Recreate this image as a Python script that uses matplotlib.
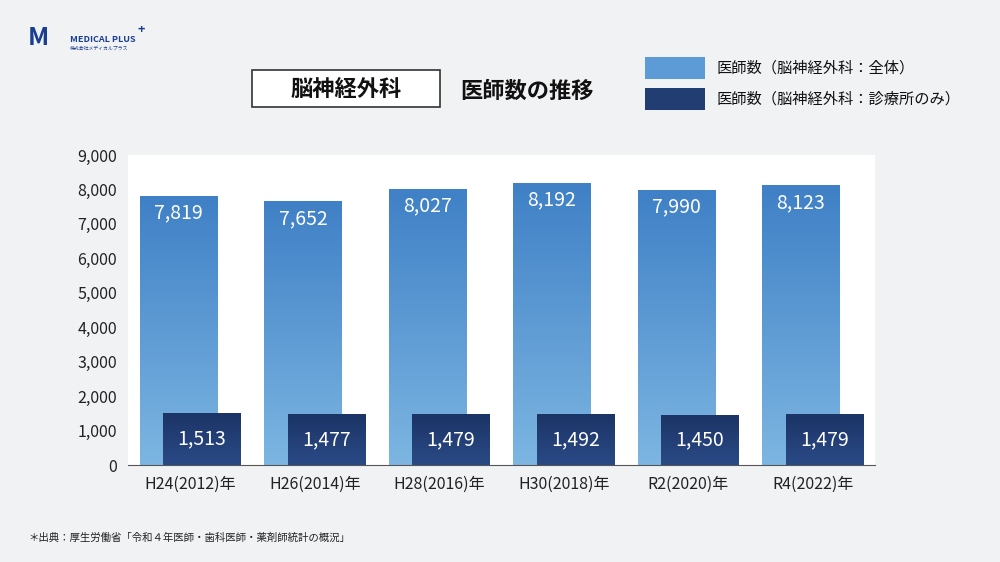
import matplotlib
matplotlib.use("Agg")
import matplotlib.pyplot as plt
import numpy as np
from matplotlib.patches import Rectangle

plt.rcParams["font.family"] = ["Noto Sans CJK JP", "DejaVu Sans"]

categories = ["H24(2012)年", "H26(2014)年", "H28(2016)年", "H30(2018)年", "R2(2020)年", "R4(2022)年"]
total = [7819, 7652, 8027, 8192, 7990, 8123]
clinic = [1513, 1477, 1479, 1492, 1450, 1479]
yticks = [0, 1000, 2000, 3000, 4000, 5000, 6000, 7000, 8000, 9000]

W, H = 1000, 562
fig = plt.figure(figsize=(W/100, H/100), dpi=100)
fig.patch.set_facecolor("#f1f2f4")
ax = fig.add_axes([128/W, 1-465/H, 747/W, 310/H])
ax.set_facecolor("white")
for s in ["top", "right", "left"]:
    ax.spines[s].set_visible(False)
ax.spines["bottom"].set_color("#555555")
ax.set_yticks(yticks)
ax.set_yticklabels([f"{v:,}" for v in yticks], fontsize=11.5, color="#222222")
ax.tick_params(axis="y", length=0, pad=8)
ax.set_xticks(range(6))
ax.set_xticklabels(categories, fontsize=11.5, color="#222222")
ax.tick_params(axis="x", length=0, pad=8)

bw = 0.62
off = 0.095
def grad_bar(x0, h, top, bot):
    grad = np.linspace(0, 1, 256).reshape(-1, 1)
    c1 = np.array(matplotlib.colors.to_rgb(top)); c2 = np.array(matplotlib.colors.to_rgb(bot))
    img = c1 + (c2 - c1) * grad[..., None]
    im = ax.imshow(img, extent=[x0, x0+bw, 0, h], origin="upper", aspect="auto", zorder=2)
    r = Rectangle((x0, 0), bw, h, transform=ax.transData, fill=False, lw=0)
    ax.add_patch(r)
    im.set_clip_path(r)

for i, (t, c) in enumerate(zip(total, clinic)):
    grad_bar(i - off - bw/2, t, "#3f80c6", "#7db6e2")
    ax.text(i - off, t - 500, f"{t:,}", ha="center", va="center", color="white", fontsize=14)
    grad_bar(i + off - bw/2, c, "#1c3466", "#2a4a86")
    ax.text(i + off, c/2, f"{c:,}", ha="center", va="center", color="white", fontsize=14)
ax.set_xlim(-0.5, 5.5)
ax.set_ylim(0, 9000)

# title
fig.patches.append(Rectangle((252/W, 1-107/H), 188/W, 37/H, transform=fig.transFigure, fc="white", ec="#333333", lw=1.2))
fig.text(346/W, 1-89/H, "脳神経外科", ha="center", va="center", fontsize=16, color="#111111", fontweight="bold")
fig.text(460/W, 1-91/H, "医師数の推移", ha="left", va="center", fontsize=16, color="#111111", fontweight="bold")

# legend
fig.patches.append(Rectangle((645/W, 1-79/H), 60/W, 22/H, transform=fig.transFigure, fc="#5d9bd6", ec="none"))
fig.patches.append(Rectangle((645/W, 1-110/H), 60/W, 22/H, transform=fig.transFigure, fc="#223d72", ec="none"))
fig.text(716/W, 1-68/H, "医師数（脳神経外科：全体）", ha="left", va="center", fontsize=11, color="#111111")
fig.text(716/W, 1-99/H, "医師数（脳神経外科：診療所のみ）", ha="left", va="center", fontsize=11, color="#111111")

# logo
fig.text(28/W, 1-38/H, "M", ha="left", va="center", fontsize=18, color="#1a3f8f", fontstyle="italic", fontweight="bold")
fig.text(70/W, 1-40/H, "MEDICAL PLUS", ha="left", va="center", fontsize=6.5, color="#1a3f8f", fontweight="bold")
fig.text(137/W, 1-30/H, "+", ha="left", va="center", fontsize=9, color="#1a3f8f", fontweight="bold")
fig.text(70/W, 1-48/H, "株式会社メディカルプラス", ha="left", va="center", fontsize=3.5, color="#1a3f8f")

# footnote
fig.text(28/W, 1-538/H, "＊出典：厚生労働省「令和４年医師・歯科医師・薬剤師統計の概況」", ha="left", va="center", fontsize=7.5, color="#222222")

fig.savefig("out.png", dpi=100, facecolor=fig.get_facecolor())
